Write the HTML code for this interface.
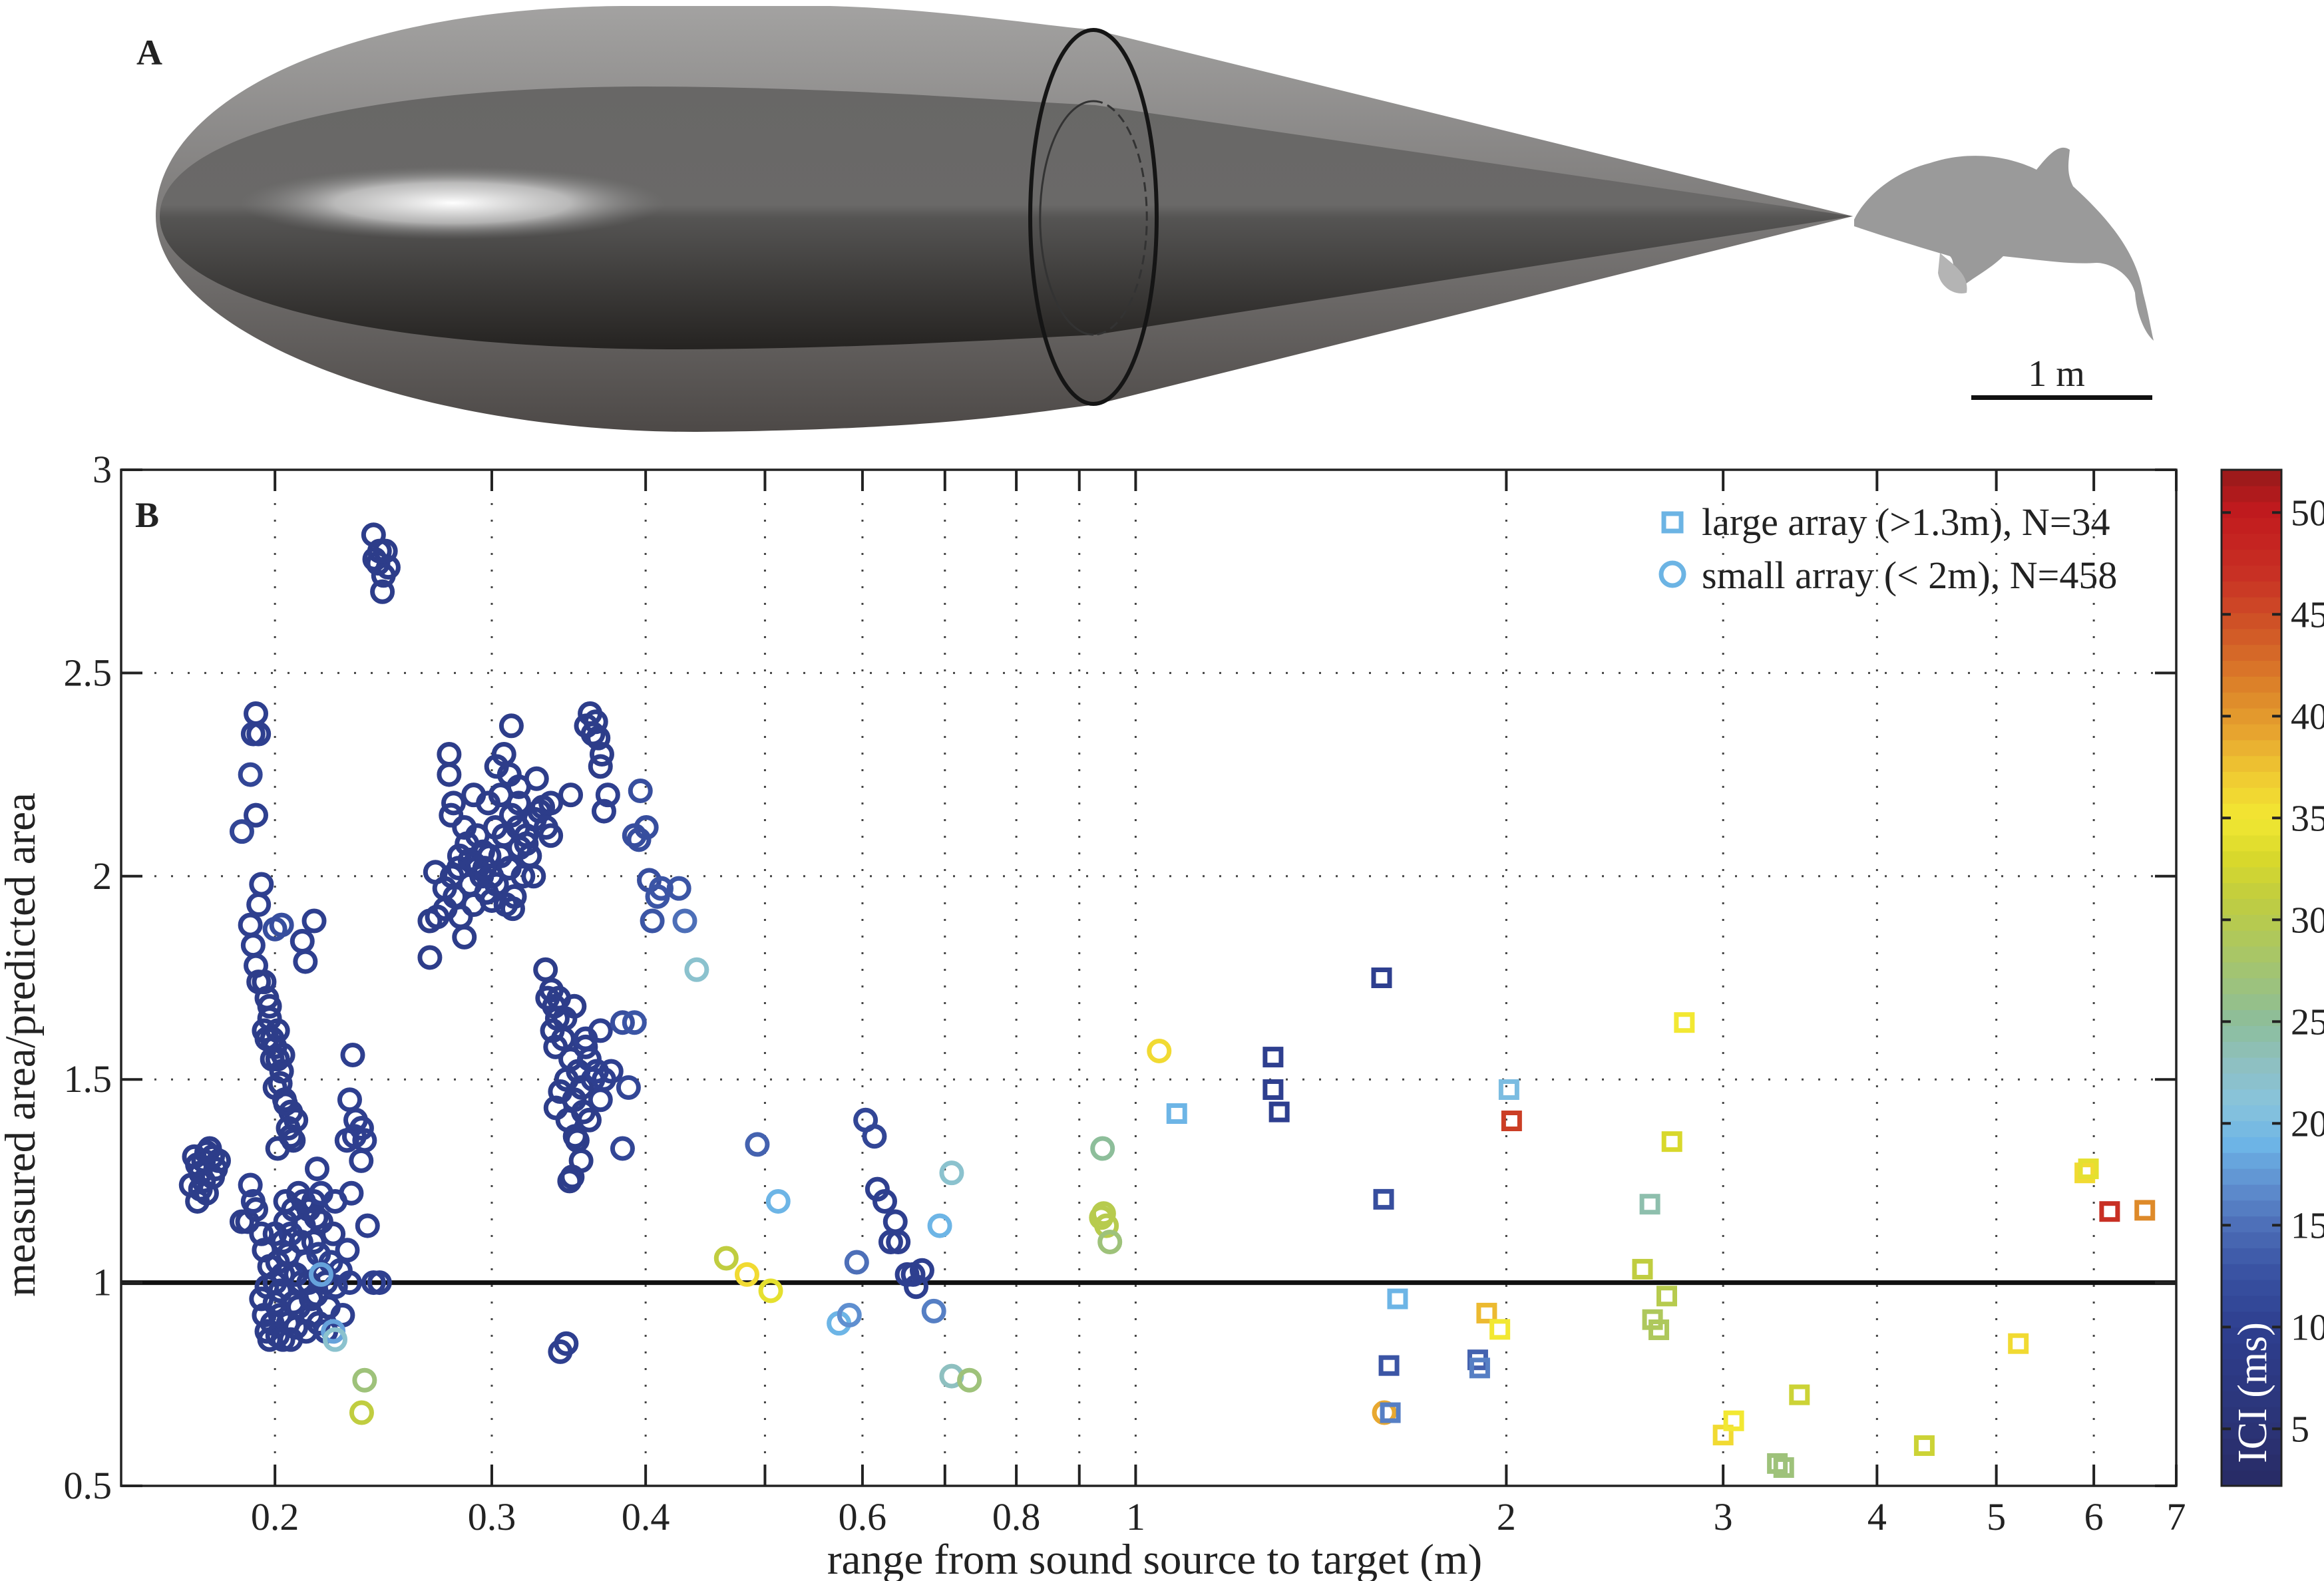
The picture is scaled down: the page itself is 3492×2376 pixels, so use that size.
<!DOCTYPE html>
<html><head><meta charset="utf-8">
<style>
html,body{margin:0;padding:0;background:#fff;}
svg{display:block;}
text{font-family:"Liberation Serif",serif;fill:#222;}
</style></head>
<body>
<svg id="fig" width="3492" height="2376" viewBox="0 0 3492 2376" xmlns="http://www.w3.org/2000/svg">
<defs>
<linearGradient id="outerG" x1="0" y1="0" x2="0" y2="1">
<stop offset="0" stop-color="#a3a2a1"/><stop offset="0.5" stop-color="#7c7a79"/><stop offset="1" stop-color="#4d4947"/>
</linearGradient>
<linearGradient id="innerG" x1="0" y1="0" x2="0" y2="1">
<stop offset="0" stop-color="#686766"/><stop offset="0.45" stop-color="#6a6968"/><stop offset="0.5" stop-color="#555453"/><stop offset="1" stop-color="#252321"/>
</linearGradient>
<radialGradient id="hiG" cx="0.5" cy="0.5" r="0.5">
<stop offset="0" stop-color="#ffffff" stop-opacity="1"/><stop offset="0.55" stop-color="#dcdcdc" stop-opacity="0.7"/><stop offset="1" stop-color="#888" stop-opacity="0"/>
</radialGradient>
</defs>

<!-- Panel A -->
<g>
<path d="M234,325 C234,150 520,12 935,9 L1247,9 C1420,14 1560,38 1646,45 L2784,325 L1646,608 C1560,618 1420,646 1047,649 C620,650 234,500 234,325 Z" fill="url(#outerG)"/>
<path d="M240,325 C240,210 520,132 958,130 C1250,130 1480,150 1646,158 L2784,325 L1646,503 C1480,512 1250,525 1002,525 C520,522 240,440 240,325 Z" fill="url(#innerG)"/>
<ellipse cx="680" cy="305" rx="320" ry="55" fill="url(#hiG)"/>
<ellipse cx="1643" cy="326" rx="95" ry="281" fill="none" stroke="#151515" stroke-width="6"/>
<path d="M1643,152 A80,175 0 0 0 1643,503" fill="none" stroke="#333" stroke-width="3"/>
<path d="M1643,152 A80,175 0 0 1 1643,503" fill="none" stroke="#333" stroke-width="3" stroke-dasharray="14,8"/>
<path d="M2786,330 C2800,300 2840,260 2900,245 C2960,225 3020,235 3060,255 C3080,230 3095,215 3110,225 C3108,245 3105,260 3115,280 C3170,330 3210,380 3220,440 C3228,470 3232,495 3236,512 C3222,500 3210,470 3208,440 C3200,410 3170,395 3150,395 C3110,398 3060,390 3010,385 C2990,405 2960,420 2950,430 C2930,420 2940,395 2930,385 C2880,370 2830,355 2786,340 Z" fill="#9a9a9a"/>
<path d="M2915,380 C2930,395 2960,410 2955,440 C2935,445 2915,430 2912,410 Z" fill="#b4b4b4"/>
<text x="205" y="97" font-size="54" font-weight="bold">A</text>
<rect x="2962" y="594" width="272" height="7" fill="#111"/>
<text x="3090" y="580" font-size="56" text-anchor="middle">1 m</text>
</g>

<g id="chart"></g>
</svg>

<script>
// ---------- data ----------
const xTickValues = [0.2,0.3,0.4,0.5,0.6,0.7,0.8,0.9,1,2,3,4,5,6,7];
const xTickLabels = ["0.2","0.3","0.4","","0.6","","0.8","","1","2","3","4","5","6","7"];
const yTickValues = [0.5,1,1.5,2,2.5,3];
const yTickLabels = ["0.5","1","1.5","2","2.5","3"];
const cbTickValues = [5,10,15,20,25,30,35,40,45,50];
const cbTickLabels = ["5","10","15","20","25","30","35","40","45","50"];
const refLineValue = 1;

// large array (squares): [range m, ratio, ICI ms]
const largeArray = [
[1.08,1.416,19],[1.293,1.555,10],[1.293,1.475,10],[1.308,1.42,10],[1.584,1.75,10],
[1.59,1.205,12],[1.606,0.796,13],[1.61,0.68,16],[1.632,0.96,19],[1.896,0.81,14],
[1.903,0.79,16],[1.928,0.925,38],[1.976,0.885,35],[2.01,1.475,20],[2.02,1.398,46],
[2.58,1.033,31],[2.616,1.193,24],[2.629,0.909,29],[2.66,0.884,29],[2.70,0.967,30],
[2.726,1.347,33],[2.79,1.64,35],[3.0,0.625,36],[3.06,0.66,35],[3.32,0.555,27],
[3.36,0.545,27],[3.46,0.724,32],[4.37,0.599,32],[5.21,0.85,36],[5.9,1.27,36],
[5.94,1.28,34],[6.18,1.175,47],[6.6,1.178,41]
];

// small array (circles): [range m, ratio, ICI ms]
const smallArray = [
[0.171,1.24,9],[0.173,1.2,9],[0.174,1.27,9],[0.175,1.30,9],[0.176,1.32,9],[0.177,1.33,9],[0.179,1.28,9],[0.175,1.25,9],[0.178,1.26,9],[0.180,1.30,9],[0.173,1.29,9],[0.176,1.22,9],[0.172,1.31,9],[0.178,1.31,9],[0.174,1.23,9],
[0.193,2.40,10],[0.192,2.35,10],[0.194,2.35,10],[0.191,2.25,11],[0.193,2.15,10],[0.188,2.11,11],[0.195,1.98,10],[0.194,1.93,10],[0.191,1.88,10],[0.192,1.83,10],[0.193,1.78,10],[0.196,1.74,9],[0.194,1.74,9],[0.197,1.70,9],[0.198,1.65,9],[0.196,1.62,9],[0.199,1.60,9],[0.2,1.58,9],[0.201,1.55,9],[0.2025,1.52,9],[0.200,1.48,9],[0.2036,1.45,9],[0.206,1.42,9],[0.205,1.38,9],[0.208,1.40,9],[0.207,1.35,9],[0.201,1.33,9],[0.197,1.60,9],[0.199,1.55,9],[0.202,1.49,9],[0.204,1.44,9],[0.2,1.87,12],[0.2025,1.88,12],[0.2105,1.84,10],[0.2117,1.79,10],[0.2152,1.89,10],[0.201,1.62,9],[0.198,1.68,9],[0.203,1.56,9],[0.206,1.36,9],
[0.188,1.15,9],[0.19,1.15,9],[0.192,1.2,10],[0.191,1.24,10],[0.193,1.18,9],[0.195,1.12,9],[0.196,1.08,9],[0.195,0.96,9],[0.196,0.92,9],[0.197,0.88,9],[0.198,0.86,9],[0.199,0.9,9],[0.2,0.95,9],[0.2,1.0,9],[0.201,1.05,9],[0.201,0.87,9],[0.202,0.92,9],[0.202,0.98,9],[0.203,1.02,9],[0.203,1.1,9],[0.204,1.15,9],[0.204,1.2,9],[0.205,0.9,9],[0.205,1.07,9],[0.206,1.12,10],[0.207,1.18,9],[0.207,0.95,9],[0.208,0.89,9],[0.209,1.22,9],[0.21,1.0,9],[0.21,1.1,9],[0.211,1.14,9],[0.212,0.88,9],[0.212,1.05,10],[0.213,1.18,9],[0.214,0.92,9],[0.215,1.1,9],[0.215,1.2,9],[0.216,0.97,9],[0.217,0.9,9],[0.217,1.07,10],[0.218,1.15,9],[0.219,1.02,9],[0.22,0.88,10],[0.221,0.94,9],[0.222,1.05,10],[0.223,1.12,9],[0.224,0.99,10],[0.226,1.03,10],[0.227,0.92,10],[0.229,1.08,10],[0.23,1.0,10],[0.2,1.12,9],[0.198,1.04,9],[0.197,0.99,9],[0.203,0.86,9],[0.206,0.86,9],[0.209,0.94,9],[0.211,1.2,9],[0.213,1.0,9],[0.214,0.96,9],[0.216,1.16,9],[0.218,1.22,10],[0.22,1.0,9],[0.208,1.02,9],
[0.218,1.02,18],[0.223,0.88,18],[0.2238,0.86,22],
[0.2313,1.56,10],[0.230,1.45,10],[0.2326,1.40,10],[0.2352,1.38,10],[0.2365,1.35,10],[0.2288,1.35,10],[0.2307,1.22,10],[0.2378,1.14,10],[0.2405,1.0,10],[0.2432,1.0,10],[0.2238,1.2,10],[0.2164,1.28,10],[0.235,1.3,10],[0.232,1.36,10],
[0.2365,0.76,27],[0.2352,0.68,31],
[0.2405,2.84,9],[0.2432,2.8,9],[0.2459,2.8,9],[0.2425,2.77,9],[0.2472,2.76,9],[0.2445,2.7,9],[0.241,2.78,9],[0.245,2.74,9],
[0.2672,1.89,9],[0.2672,1.8,9],[0.2709,1.9,9],[0.27,2.01,9],[0.2747,1.97,9],[0.2785,2.0,9],[0.2824,2.05,9],[0.2864,2.08,9],[0.2903,2.03,9],[0.2944,2.0,9],[0.2985,2.05,9],[0.3027,1.98,9],[0.3069,2.1,9],[0.3112,2.15,9],[0.3155,2.18,9],[0.32,2.1,9],[0.3244,2.0,9],[0.277,2.3,9],[0.277,2.25,9],[0.2793,2.18,9],[0.3069,2.3,9],[0.3112,2.37,9],[0.3027,2.27,9],[0.3155,2.22,9],[0.3262,2.24,9],[0.28,1.95,9],[0.283,1.9,9],[0.285,2.12,9],[0.288,1.98,9],[0.29,1.93,9],[0.292,2.1,9],[0.295,2.06,9],[0.297,1.96,9],[0.3,2.0,9],[0.302,2.12,9],[0.305,2.05,9],[0.308,1.93,9],[0.31,2.02,9],[0.313,1.95,9],[0.316,2.07,9],[0.318,2.0,9],[0.322,2.05,9],[0.325,2.14,9],[0.328,2.16,9],[0.33,2.17,9],[0.332,2.12,9],[0.285,1.85,9],[0.275,1.92,9],[0.29,2.2,9],[0.298,2.18,9],[0.305,2.2,9],[0.31,2.25,9],[0.292,2.02,9],[0.296,2.02,9],[0.3,1.94,9],[0.288,2.04,9],[0.312,1.92,9],[0.278,2.15,9],[0.282,2.02,9],[0.32,2.08,9],[0.315,2.12,9],[0.335,2.1,9],[0.335,2.18,9],
[0.3605,2.4,9],[0.3644,2.38,9],[0.3686,2.3,9],[0.3625,2.35,9],[0.3727,2.2,10],[0.3676,2.27,9],[0.3477,2.2,9],[0.366,2.34,9],[0.37,2.16,10],[0.358,2.37,9],
[0.3961,2.21,12],[0.3917,2.1,12],[0.4005,2.12,12],[0.4027,1.99,12],[0.4118,1.97,13],[0.405,1.89,13],[0.4257,1.97,13],[0.4304,1.89,15],[0.395,2.09,12],[0.409,1.95,13],
[0.3317,1.77,9],[0.3354,1.72,9],[0.3372,1.68,9],[0.3391,1.65,9],[0.3429,1.6,9],[0.3477,1.55,9],[0.3526,1.52,9],[0.3575,1.58,9],[0.3625,1.5,10],[0.3676,1.45,10],[0.341,1.47,9],[0.3458,1.4,9],[0.3506,1.36,9],[0.3545,1.3,9],[0.3487,1.26,9],[0.3575,1.6,10],[0.3676,1.62,10],[0.3831,1.64,12],[0.3917,1.64,13],[0.3874,1.48,11],[0.3831,1.33,11],[0.3382,1.43,9],[0.333,1.7,9],[0.336,1.62,9],[0.34,1.7,9],[0.345,1.5,9],[0.35,1.45,9],[0.355,1.48,9],[0.36,1.55,10],[0.365,1.52,10],[0.37,1.5,10],[0.338,1.58,9],[0.352,1.35,9],[0.356,1.42,9],[0.36,1.4,9],[0.347,1.25,9],[0.344,1.65,9],[0.35,1.68,9],[0.375,1.52,10],
[0.341,0.83,10],[0.3448,0.85,10],
[0.4401,1.77,22],[0.4651,1.06,31],[0.4835,1.02,36],[0.5054,0.98,34],[0.4929,1.34,14],[0.5125,1.2,19],[0.5742,0.9,19],[0.5855,0.92,17],[0.5936,1.05,15],[0.6035,1.4,11],[0.6136,1.36,11],[0.617,1.23,10],[0.6256,1.2,10],[0.638,1.15,10],[0.6415,1.1,10],[0.6326,1.1,10],[0.6523,1.02,10],[0.6596,1.02,10],[0.6707,1.03,10],[0.6633,0.99,10],[0.6857,0.93,16],[0.6933,1.14,19],[0.7089,1.27,22],[0.7089,0.77,23],[0.7328,0.76,27],[0.94,1.33,25],[0.9378,1.16,30],[0.942,1.17,30],[0.947,1.14,30],[0.953,1.1,27],[1.045,1.57,36],[1.592,0.68,39]
];

const legendLabels = ["large array (>1.3m), N=34","small array (< 2m), N=458"];

// colormap stops (ICI value -> colour)
const cmapValues = [2,5,10,13,15,17,19,21,23,25,27,29,31,33,35,37,39,41,43,45,47,50,52.1];
const cmapColors = ["#272a63","#2b3375","#2e3f8f","#3b55a5","#4d6fb8","#5f8fd0","#6db5e6","#88c3dc","#8ec0c0","#8dbe9a","#9ec27a","#aec85c","#c0cd40","#d8d82c","#f2e832","#f0cc32","#e8a830","#de8a2a","#d66a28","#ce4c26","#c83024","#c21a1e","#961a1a"];

// ---------- layout ----------
const NS = "http://www.w3.org/2000/svg";
const L = 182, R = 3270, T = 706, B = 2233;
const xMin = 0.15, xMax = 7, yMin = 0.5, yMax = 3;
const cbL = 3338, cbR = 3428, cbMin = 2.2, cbMax = 52.1;
const xS = v => L + (Math.log(v) - Math.log(xMin)) / (Math.log(xMax) - Math.log(xMin)) * (R - L);
const yS = v => B - (v - yMin) / (yMax - yMin) * (B - T);
const cS = v => B - (v - cbMin) / (cbMax - cbMin) * (B - T);

function hex(h){return [parseInt(h.slice(1,3),16),parseInt(h.slice(3,5),16),parseInt(h.slice(5,7),16)];}
function colorOf(v){
  if (v <= cmapValues[0]) return cmapColors[0];
  for (let i=1;i<cmapValues.length;i++){
    if (v <= cmapValues[i]){
      const t=(v-cmapValues[i-1])/(cmapValues[i]-cmapValues[i-1]);
      const a=hex(cmapColors[i-1]), b=hex(cmapColors[i]);
      return "rgb("+a.map((c,k)=>Math.round(c+(b[k]-c)*t)).join(",")+")";
    }
  }
  return cmapColors[cmapColors.length-1];
}
function mk(tag, attrs, parent){
  const e=document.createElementNS(NS,tag);
  for (const k in attrs) e.setAttribute(k, attrs[k]);
  parent.appendChild(e);
  return e;
}
const g = document.getElementById("chart");

// grid
xTickValues.forEach((v,i)=>{
  if (v===xMax) return;
  const ln = mk("line",{x1:xS(v),x2:xS(v),y1:T,y2:B,stroke:"#444","stroke-width":3,"stroke-dasharray":"3,22"},g);
  
  
});
yTickValues.forEach(v=>{
  if (v===yMin||v===yMax) return;
  const ln = mk("line",{x1:L,x2:R,y1:yS(v),y2:yS(v),stroke:"#444","stroke-width":3,"stroke-dasharray":"3,22"},g);
  
  
});

// reference line
const ref = mk("line",{x1:L,x2:R,y1:yS(refLineValue),y2:yS(refLineValue),stroke:"#111","stroke-width":7},g);



// markers: circles
smallArray.forEach(d=>{
  const c = mk("circle",{cx:xS(d[0]),cy:yS(d[1]),r:15,fill:"none",stroke:colorOf(d[2]),"stroke-width":7},g);
  
  
});
// squares
largeArray.forEach(d=>{
  const s = mk("rect",{x:xS(d[0])-12,y:yS(d[1])-12,width:24,height:24,fill:"none",stroke:colorOf(d[2]),"stroke-width":7},g);
  
  
});

// axes box
const box = mk("rect",{x:L,y:T,width:R-L,height:B-T,fill:"none",stroke:"#222","stroke-width":3.5},g);



// x ticks
xTickValues.forEach((v,i)=>{
  const x=xS(v);
  const t1=mk("line",{x1:x,x2:x,y1:B,y2:B-32,stroke:"#222","stroke-width":4},g);
  
  
  const t2=mk("line",{x1:x,x2:x,y1:T,y2:T+32,stroke:"#222","stroke-width":4},g);
  
  
  if (xTickLabels[i]){
    const tx=mk("text",{x:x,y:B+66,"font-size":58,"text-anchor":"middle"},g);
    tx.textContent=xTickLabels[i];
    
    
  }
});
// y ticks
yTickValues.forEach((v,i)=>{
  const y=yS(v);
  const t1=mk("line",{x1:L,x2:L+32,y1:y,y2:y,stroke:"#222","stroke-width":4},g);
  
  
  const t2=mk("line",{x1:R,x2:R-32,y1:y,y2:y,stroke:"#222","stroke-width":4},g);
  
  
  const tx=mk("text",{x:L-14,y:y+19,"font-size":58,"text-anchor":"end"},g);
  tx.textContent=yTickLabels[i];
  
  
});

// axis titles
const xt=mk("text",{x:1735,y:2365,"font-size":65,"text-anchor":"middle"},g);
xt.textContent="range from sound source to target (m)";


const yt=mk("text",{x:0,y:0,"font-size":65,"text-anchor":"middle",transform:"translate(52,1570) rotate(-90)"},g);
yt.textContent="measured area/predicted area";


const pb=mk("text",{x:203,y:792,"font-size":54,"font-weight":"bold"},g);
pb.textContent="B";



// legend
const lg=mk("g",{},g);


const ls=mk("rect",{x:2500,y:772,width:26,height:26,fill:"none",stroke:"#6cb4e4","stroke-width":7},lg);


const lc=mk("circle",{cx:2513,cy:863,r:17,fill:"none",stroke:"#6cb4e4","stroke-width":7},lg);


[804,884].forEach((y,i)=>{
  const t=mk("text",{x:2557,y:y,"font-size":58},lg);
  t.textContent=legendLabels[i];
  
  
});

// colorbar
const cb=mk("g",{},g);


const nb=64;
for(let i=0;i<nb;i++){
  const v0=cbMin+(cbMax-cbMin)*i/nb, v1=cbMin+(cbMax-cbMin)*(i+1)/nb;
  const r=mk("rect",{x:cbL,y:cS(v1),width:cbR-cbL,height:cS(v0)-cS(v1)+0.8,fill:colorOf((v0+v1)/2)},cb);
  
  
}
const cbf=mk("rect",{x:cbL,y:T,width:cbR-cbL,height:B-T,fill:"none",stroke:"#222","stroke-width":3},cb);


cbTickValues.forEach((v,i)=>{
  const y=cS(v);
  const a=mk("line",{x1:cbL,x2:cbL+14,y1:y,y2:y,stroke:"#222","stroke-width":4},cb);
  
  
  const b=mk("line",{x1:cbR,x2:cbR-14,y1:y,y2:y,stroke:"#222","stroke-width":4},cb);
  
  
  const t=mk("text",{x:cbR+14,y:y+19,"font-size":56},cb);
  t.textContent=cbTickLabels[i];
  
  
});
const cbt=mk("text",{x:0,y:0,"font-size":62,"text-anchor":"middle",fill:"#ffffff",transform:"translate(3405,2093) rotate(-90)"},cb);
cbt.setAttribute("style","fill:#ffffff");
cbt.textContent="ICI (ms)";


</script>
</body></html>
